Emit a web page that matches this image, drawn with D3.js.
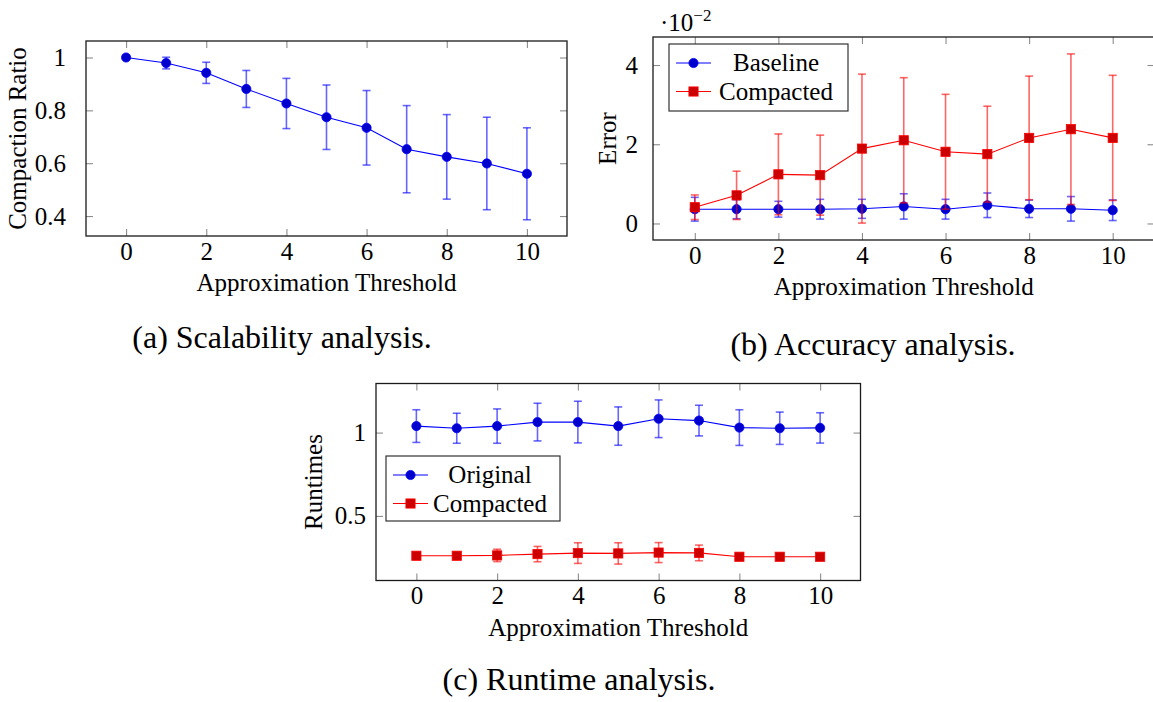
<!DOCTYPE html>
<html>
<head>
<meta charset="utf-8">
<script src="https://cdn.jsdelivr.net/npm/d3@7"></script>
<style>
  body { margin: 0; background: #fff; }
  text { font-family: "Liberation Serif", "Times New Roman", serif; fill: #000; }
</style>
</head>
<body>
<svg id="fig" width="1153" height="702"></svg>
<script>
// approximation thresholds shared by all three plots
var thresholds = [0, 1, 2, 3, 4, 5, 6, 7, 8, 9, 10];

// (a) compaction ratio, mean and error
var ratioMean = [1.0, 0.979, 0.942, 0.881, 0.826, 0.774, 0.734, 0.653, 0.624, 0.599, 0.560];
var ratioErr  = [0.0, 0.022, 0.040, 0.070, 0.095, 0.122, 0.141, 0.165, 0.160, 0.175, 0.174];

// (b) error of baseline / compacted
var baselineErrMean = [0.0036, 0.0036, 0.0036, 0.0036, 0.0037, 0.0043, 0.0036, 0.0046, 0.0037, 0.0037, 0.00335];
var baselineErrDev  = [0.0030, 0.0024, 0.0020, 0.0025, 0.0024, 0.0032, 0.0025, 0.0031, 0.0022, 0.0031, 0.0026];
var compactedErrMean = [0.0041, 0.0071, 0.0124, 0.0122, 0.0189, 0.0210, 0.0181, 0.0175, 0.0216, 0.0238, 0.0216];
var compactedErrDev  = [0.0031, 0.0061, 0.0102, 0.0101, 0.0188, 0.0158, 0.0145, 0.0121, 0.0156, 0.0190, 0.0158];

// (c) runtimes of original / compacted
var originalRuntime    = [1.039, 1.026, 1.039, 1.063, 1.063, 1.039, 1.083, 1.072, 1.030, 1.026, 1.028];
var originalRuntimeErr = [0.098, 0.090, 0.103, 0.113, 0.125, 0.115, 0.113, 0.092, 0.107, 0.097, 0.091];
var compactedRuntime    = [0.261, 0.261, 0.263, 0.271, 0.277, 0.275, 0.280, 0.278, 0.255, 0.255, 0.255];
var compactedRuntimeErr = [0.004, 0.004, 0.037, 0.046, 0.062, 0.064, 0.060, 0.047, 0.005, 0.004, 0.004];

var xTicks = [0, 2, 4, 6, 8, 10];

var BLUE = { line: '#0000ff', fill: '#0000cc', mark: 'circle' };
var RED  = { line: '#ff0000', fill: '#cc0000', mark: 'square' };

var FONT = 25;
var svg = d3.select('#fig');

function drawPanel(p) {
  var g = svg.append('g');

  var x = d3.scaleLinear().domain([-1, 11]).range([p.left, p.right]);

  // y range = data incl. error bars, enlarged by 10% on each side
  var lo = d3.min(p.series, function(s) { return d3.min(s.mean, function(m, i) { return m - s.err[i]; }); });
  var hi = d3.max(p.series, function(s) { return d3.max(s.mean, function(m, i) { return m + s.err[i]; }); });
  var pad = (hi - lo) * 0.1;
  var y = d3.scaleLinear().domain([lo - pad, hi + pad]).range([p.bottom, p.top]);

  // ticks on all four sides, pointing inwards
  var axes = [
    [d3.axisBottom(x).tickValues(xTicks).tickSize(-7).tickPadding(6), 'translate(0,' + p.bottom + ')'],
    [d3.axisTop(x).tickValues(xTicks).tickSize(-7).tickFormat(''), 'translate(0,' + p.top + ')'],
    [d3.axisLeft(y).tickValues(p.yTicks).tickSize(-7).tickPadding(p.yPad).tickFormat(p.yFormat), 'translate(' + p.left + ',0)'],
    [d3.axisRight(y).tickValues(p.yTicks).tickSize(-7).tickFormat(''), 'translate(' + p.right + ',0)']
  ];
  axes.forEach(function(a) {
    var ax = g.append('g').attr('transform', a[1]).call(a[0]);
    ax.select('.domain').remove();
    ax.selectAll('line').attr('stroke', '#8c8c8c').attr('stroke-width', 1.1);
    ax.attr('font-family', null).attr('font-size', null);
    ax.selectAll('text').style('font-size', FONT + 'px').attr('fill', '#000');
  });

  // frame
  g.append('rect')
    .attr('x', p.left).attr('y', p.top)
    .attr('width', p.right - p.left).attr('height', p.bottom - p.top)
    .attr('fill', 'none').attr('stroke', '#1a1a1a').attr('stroke-width', 1.3);

  p.series.forEach(function(s) {
    var sg = g.append('g');
    var idx = d3.range(thresholds.length);

    // error bars
    var eb = sg.append('g')
      .attr('stroke', s.style.line).attr('stroke-opacity', 0.6).attr('stroke-width', 1.6);
    idx.forEach(function(i) {
      var cx = x(thresholds[i]), y1 = y(s.mean[i] - s.err[i]), y2 = y(s.mean[i] + s.err[i]);
      eb.append('line').attr('x1', cx).attr('x2', cx).attr('y1', y1).attr('y2', y2);
      eb.append('line').attr('x1', cx - 4).attr('x2', cx + 4).attr('y1', y1).attr('y2', y1);
      eb.append('line').attr('x1', cx - 4).attr('x2', cx + 4).attr('y1', y2).attr('y2', y2);
    });

    // connecting line
    sg.append('path')
      .datum(idx)
      .attr('fill', 'none').attr('stroke', s.style.line).attr('stroke-width', 1.1)
      .attr('d', d3.line()
        .x(function(i) { return x(thresholds[i]); })
        .y(function(i) { return y(s.mean[i]); }));

    // markers
    idx.forEach(function(i) {
      drawMark(sg, s.style, x(thresholds[i]), y(s.mean[i]));
    });
  });

  // axis labels
  g.append('text')
    .attr('x', (p.left + p.right) / 2).attr('y', p.bottom + 55)
    .attr('text-anchor', 'middle').style('font-size', FONT + 'px')
    .text('Approximation Threshold');
  g.append('text')
    .attr('transform', 'translate(' + (p.left - p.yLabelOff) + ',' + ((p.top + p.bottom) / 2) + ') rotate(-90)')
    .attr('text-anchor', 'middle').style('font-size', FONT + 'px')
    .text(p.yLabel);

  // caption
  g.append('text')
    .attr('x', p.caption.x).attr('y', p.caption.y)
    .attr('text-anchor', 'middle').style('font-size', '32px')
    .text(p.caption.text);

  if (p.legend) drawLegend(g, p.legend, p.series);
  return g;
}

function drawMark(sel, style, cx, cy) {
  if (style.mark === 'circle') {
    sel.append('circle').attr('cx', cx).attr('cy', cy).attr('r', 4.6)
      .attr('fill', style.fill).attr('stroke', style.line).attr('stroke-width', 0.8);
  } else {
    sel.append('rect').attr('x', cx - 4.6).attr('y', cy - 4.6).attr('width', 9.2).attr('height', 9.2)
      .attr('fill', style.fill).attr('stroke', style.line).attr('stroke-width', 0.8);
  }
}

function drawLegend(g, L, series) {
  var lg = g.append('g');
  lg.append('rect')
    .attr('x', L.x).attr('y', L.y).attr('width', L.w).attr('height', L.h)
    .attr('fill', '#fff').attr('stroke', '#333').attr('stroke-width', 1.2);
  series.forEach(function(s, k) {
    var ry = L.y + 19 + k * 28.5;
    lg.append('line')
      .attr('x1', L.x + 7).attr('x2', L.x + 42).attr('y1', ry).attr('y2', ry)
      .attr('stroke', s.style.line).attr('stroke-width', 1.1);
    drawMark(lg, s.style, L.x + 24.5, ry);
    lg.append('text')
      .attr('x', L.x + L.textX).attr('y', ry + 8)
      .attr('text-anchor', 'middle').style('font-size', FONT + 'px')
      .text(s.name);
  });
}

function plainFormat(d) { return String(+d.toFixed(2)); }

// (a) Scalability
drawPanel({
  left: 86, right: 567, top: 41, bottom: 236,
  yTicks: [0.4, 0.6, 0.8, 1], yFormat: plainFormat, yPad: 20,
  yLabel: 'Compaction Ratio', yLabelOff: 60,
  series: [{ name: 'Ratio', mean: ratioMean, err: ratioErr, style: BLUE }],
  caption: { x: 282, y: 348, text: '(a) Scalability analysis.' }
});

// (b) Accuracy
var pb = drawPanel({
  left: 653, right: 1154.5, top: 37, bottom: 240,
  yTicks: [0, 0.02, 0.04], yFormat: function(d) { return plainFormat(d * 100); }, yPad: 15,
  yLabel: 'Error', yLabelOff: 37,
  series: [
    { name: 'Baseline', mean: baselineErrMean, err: baselineErrDev, style: BLUE },
    { name: 'Compacted', mean: compactedErrMean, err: compactedErrDev, style: RED }
  ],
  legend: { x: 669, y: 44, w: 179, h: 67, textX: 107 },
  caption: { x: 873, y: 355, text: '(b) Accuracy analysis.' }
});
var sci = pb.append('text').attr('x', 660).attr('y', 31).style('font-size', FONT + 'px');
sci.append('tspan').text('\u00b710');
sci.append('tspan').attr('dy', -10).style('font-size', '17px').text('\u22122');

// (c) Runtime
drawPanel({
  left: 376, right: 860.5, top: 383.5, bottom: 580.5,
  yTicks: [0.5, 1], yFormat: plainFormat, yPad: 10,
  yLabel: 'Runtimes', yLabelOff: 54,
  series: [
    { name: 'Original', mean: originalRuntime, err: originalRuntimeErr, style: BLUE },
    { name: 'Compacted', mean: compactedRuntime, err: compactedRuntimeErr, style: RED }
  ],
  legend: { x: 386, y: 456, w: 174, h: 65, textX: 104 },
  caption: { x: 579, y: 690, text: '(c) Runtime analysis.' }
});
</script>
</body>
</html>
